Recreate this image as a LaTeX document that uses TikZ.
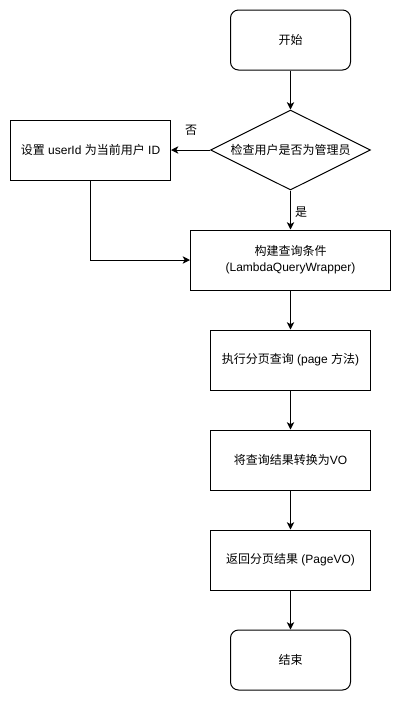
\documentclass[tikz,border=0pt]{standalone}
\usepackage{fontspec}
\setmainfont{Liberation Sans}
\newfontfamily\cjk{Noto Sans CJK SC}
\usetikzlibrary{shapes.geometric,arrows.meta}
\newcommand{\zh}[1]{{\cjk #1}}

\tikzset{stepbox/.style={ draw, rectangle, line width=0.75pt, minimum width=120pt, minimum height=45pt, inner sep=2pt, align=center}}
\tikzset{term/.style={ stepbox, rounded corners=6pt, minimum width=90pt}}
\tikzset{decide/.style={ draw, diamond, aspect=2, line width=0.75pt, inner sep=0pt, minimum width=120pt, minimum height=60pt}}
\tikzset{arr/.style={ line width=0.75pt, -{Stealth[length=5.5pt,width=5.5pt,inset=1.5pt]}}}

\begin{document}
\begin{tikzpicture}[x=0.75pt, y=-0.75pt, font=\fontsize{9}{12}\selectfont]
\useasboundingbox (0,0) rectangle (401,701);
\node[term] (start) at (290.5,40) {\zh{开始}};
\node[decide] (admin) at (290.5,150) {\zh{检查用户是否为管理员}};
\node[stepbox] (setuid) at (90.5,150) {\zh{设置} userId \zh{为当前用户} ID};
\node[stepbox, minimum width=150pt] (build) at (290.5,260) {\zh{构建查询条件}\\(LambdaQueryWrapper)};
\node[stepbox] (query) at (290.5,360) {\zh{执行分页查询} (page \zh{方法})};
\node[stepbox] (convert) at (290.5,460) {\zh{将查询结果转换为}VO};
\node[stepbox] (result) at (290.5,560) {\zh{返回分页结果} (PageVO)};
\node[term] (finish) at (290.5,660) {\zh{结束}};
\node (no) at (191,130) {\zh{否}};
\node (yes) at (301,212) {\zh{是}};
\draw[arr] (start) -- (admin);
\draw[arr] (admin) -- (setuid);
\draw[arr] (admin) -- (build);
\draw[arr] (setuid.south) |- (build.west);
\draw[arr] (build) -- (query);
\draw[arr] (query) -- (convert);
\draw[arr] (convert) -- (result);
\draw[arr] (result) -- (finish);
\end{tikzpicture}
\end{document}
